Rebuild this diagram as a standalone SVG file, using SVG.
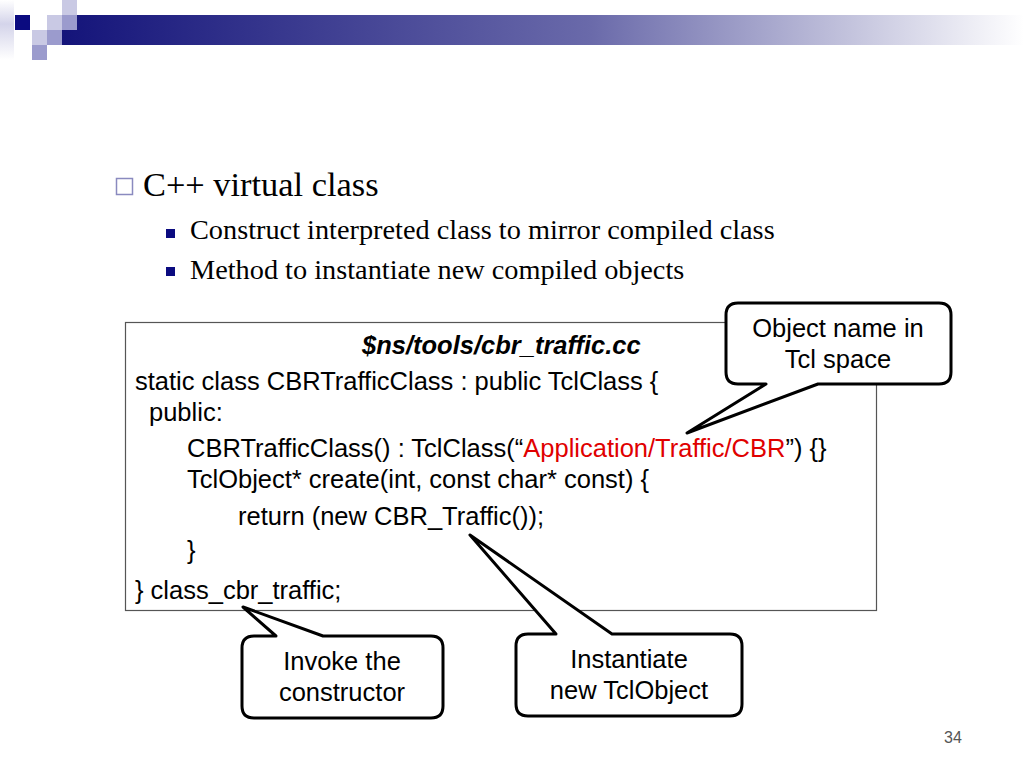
<svg xmlns="http://www.w3.org/2000/svg" width="1024" height="768" viewBox="0 0 1024 768">
<defs>
<linearGradient id="bar" x1="0" y1="0" x2="1" y2="0">
<stop offset="0" stop-color="#14147a"/>
<stop offset="0.55" stop-color="#6a6aaa"/>
<stop offset="1" stop-color="#ffffff"/>
</linearGradient>
<linearGradient id="col" x1="0" y1="0" x2="0" y2="1">
<stop offset="0" stop-color="#ffffff"/>
<stop offset="0.4" stop-color="#d4d4ea"/>
<stop offset="1" stop-color="#ffffff"/>
</linearGradient>
<style>
.serif{font-family:"Liberation Serif","Times New Roman",serif;fill:#000}
.code{font-family:"Liberation Sans",Arial,sans-serif;font-size:25.5px;fill:#000}
.call{font-family:"Liberation Sans",Arial,sans-serif;font-size:25.5px;fill:#000;text-anchor:middle}
.bubble{fill:#fff;stroke:#000;stroke-width:3;stroke-linejoin:round}
.light{fill:#c9c9e4}
.mid{fill:#9b9bcd}
</style>
</defs>
<rect width="1024" height="768" fill="#fff"/>
<g id="decoration">
<rect x="0" y="0" width="14" height="60" fill="url(#col)"/>
<rect x="62" y="15" width="962" height="30" fill="url(#bar)"/>
<rect x="15" y="15" width="15" height="15" fill="#0b0b80"/>
<rect class="light" x="62" y="0" width="15" height="15"/>
<rect class="light" x="47" y="15" width="15" height="15"/>
<rect class="mid" x="62" y="15" width="15" height="15"/>
<rect class="light" x="32" y="30" width="15" height="15"/>
<rect class="mid" x="47" y="30" width="15" height="15"/>
<rect class="mid" x="32" y="45" width="15" height="15"/>
</g>
<g id="bullets">
<rect x="116.5" y="178.5" width="16" height="16" fill="none" stroke="#8a8abf" stroke-width="1.5"/>
<text class="serif" x="143" y="196" font-size="34.4">C++ virtual class</text>
<rect x="166" y="229" width="9" height="9" fill="#0b0b80"/>
<text class="serif" x="190" y="239" font-size="28.3">Construct interpreted class to mirror compiled class</text>
<rect x="166" y="267" width="9" height="9" fill="#0b0b80"/>
<text class="serif" x="190" y="279" font-size="28.3">Method to instantiate new compiled objects</text>
</g>
<g id="codebox">
<rect x="125.5" y="322.5" width="751" height="288" fill="#fff" stroke="#555" stroke-width="1.2"/>
<text class="code" x="362" y="354" font-weight="bold" font-style="italic">$ns/tools/cbr_traffic.cc</text>
<text class="code" x="135" y="390">static class CBRTrafficClass : public TclClass {</text>
<text class="code" x="149" y="421">public:</text>
<text class="code" x="187" y="457">CBRTrafficClass() : TclClass(“<tspan fill="#e00000">Application/Traffic/CBR</tspan>”) {}</text>
<text class="code" x="187" y="488">TclObject* create(int, const char* const) {</text>
<text class="code" x="238" y="525">return (new CBR_Traffic());</text>
<text class="code" x="187" y="559">}</text>
<text class="code" x="135" y="599">} class_cbr_traffic;</text>
</g>
<g id="callout-object-name">
<path class="bubble" d="M738,303 H939 Q951,303 951,315 V372 Q951,384 939,384 H818 L687,433 L766,384 H738 Q726,384 726,372 V315 Q726,303 738,303 Z"/>
<text class="call" x="838" y="337">Object name in</text>
<text class="call" x="838" y="368">Tcl space</text>
</g>
<g id="callout-invoke">
<path class="bubble" d="M254,636 H276 L243,607 L323,636 H431 Q443,636 443,648 V706 Q443,718 431,718 H254 Q242,718 242,706 V648 Q242,636 254,636 Z"/>
<text class="call" x="342" y="670">Invoke the</text>
<text class="call" x="342" y="701">constructor</text>
</g>
<g id="callout-instantiate">
<path class="bubble" d="M528,634 H556 L470,535 L612,634 H730 Q742,634 742,646 V704 Q742,716 730,716 H528 Q516,716 516,704 V646 Q516,634 528,634 Z"/>
<text class="call" x="629" y="668">Instantiate</text>
<text class="call" x="629" y="699">new TclObject</text>
</g>
<text x="944" y="743" font-family="Liberation Sans,Arial,sans-serif" font-size="16" fill="#555">34</text>
</svg>
